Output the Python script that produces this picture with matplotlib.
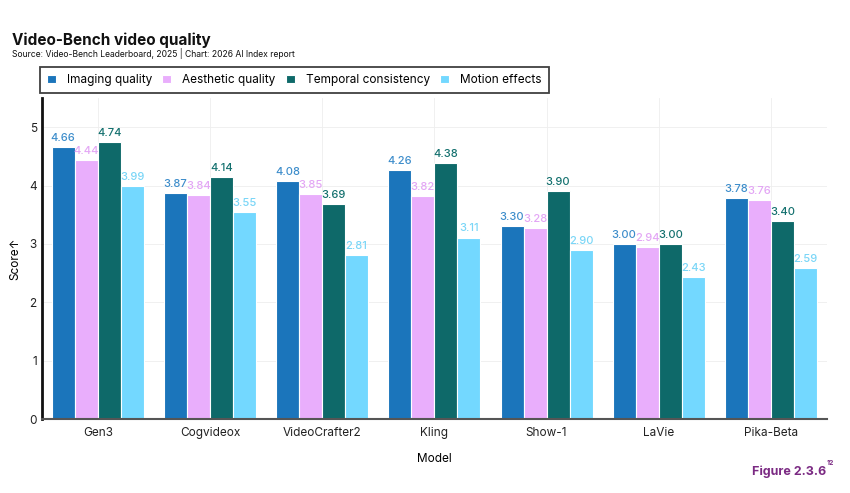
import numpy as np
import matplotlib.pyplot as plt

plt.rcParams['font.family'] = ['Inter', 'DejaVu Sans']

# data
models = ['Gen3', 'Cogvideox', 'VideoCrafter2', 'Kling', 'Show-1', 'LaVie', 'Pika-Beta']
imaging = [4.66, 3.87, 4.08, 4.26, 3.30, 3.00, 3.78]
aesthetic = [4.44, 3.84, 3.85, 3.82, 3.28, 2.94, 3.76]
temporal = [4.74, 4.14, 3.69, 4.38, 3.90, 3.00, 3.40]
motion = [3.99, 3.55, 2.81, 3.11, 2.90, 2.43, 2.59]

series_names = ['Imaging quality', 'Aesthetic quality', 'Temporal consistency', 'Motion effects']
bar_colors = ['#1B75BB', '#E9AEFC', '#0E6969', '#73D8FF']
label_colors = ['#3D8DCB', '#E3A6F5', '#13706E', '#7AD6F7']

fig = plt.figure(figsize=(8.5, 4.93), dpi=100)
ax = fig.add_axes([0.049, 0.150, 0.924, 0.651])

x = np.arange(len(models))
w = 0.205
handles = []
for i, (vals, name) in enumerate(zip([imaging, aesthetic, temporal, motion], series_names)):
    pos = x + (i - 1.5) * w
    b = ax.bar(pos, vals, width=w, color=bar_colors[i], edgecolor='white', linewidth=0.8,
               label=name, zorder=3)
    handles.append(b)
    for p, v in zip(pos, vals):
        ax.text(p, v + 0.07, f'{v:.2f}', ha='center', va='bottom', fontsize=8,
                color=label_colors[i], fontweight='medium', zorder=4)

ax.set_xlim(-0.5, len(models) - 0.5)
ax.set_ylim(0, 5.5)
ax.set_yticks([0, 1, 2, 3, 4, 5])
ax.set_xticks(x)
ax.set_xticklabels(models)
ax.tick_params(axis='both', length=0, labelsize=8.5, colors='#222222')
ax.tick_params(axis='x', pad=6)
ax.grid(True, color='#eeeeee', linewidth=0.6, zorder=0)
ax.set_axisbelow(True)
for s in ['top', 'right']:
    ax.spines[s].set_visible(False)
ax.spines['left'].set_linewidth(2)
ax.spines['left'].set_color('#111111')
ax.spines['bottom'].set_linewidth(1.5)
ax.spines['bottom'].set_color('#555555')
for s in ['left', 'bottom']:
    ax.spines[s].set_zorder(6)

ax.set_xlabel('Model', fontsize=8.5, labelpad=10)
ax.set_ylabel('Score↑', fontsize=8.5, labelpad=6)

leg = fig.legend(handles=handles, loc='lower left', bbox_to_anchor=(0.047, 0.811),
                 ncol=4, frameon=True, fancybox=False, fontsize=8.5,
                 handlelength=0.75, handleheight=0.75, columnspacing=0.85,
                 handletextpad=0.95, borderpad=0.6, borderaxespad=0)
leg.get_frame().set_edgecolor('#111111')
leg.get_frame().set_linewidth(1.3)

fig.text(0.014, 0.909, 'Video-Bench video quality', fontsize=11, fontweight='bold',
         color='#111111')
fig.text(0.014, 0.902, 'Source: Video-Bench Leaderboard, 2025 | Chart: 2026 AI Index report',
         fontsize=6.2, color='#111111', va='top')
fig.text(0.972, 0.037, 'Figure 2.3.6', fontsize=9, fontweight='bold',
         color='#7B2A83', ha='right')
fig.text(0.973, 0.057, '12', fontsize=5, fontweight='bold', color='#7B2A83', ha='left')

fig.savefig('out.png', dpi=100, facecolor='white')
